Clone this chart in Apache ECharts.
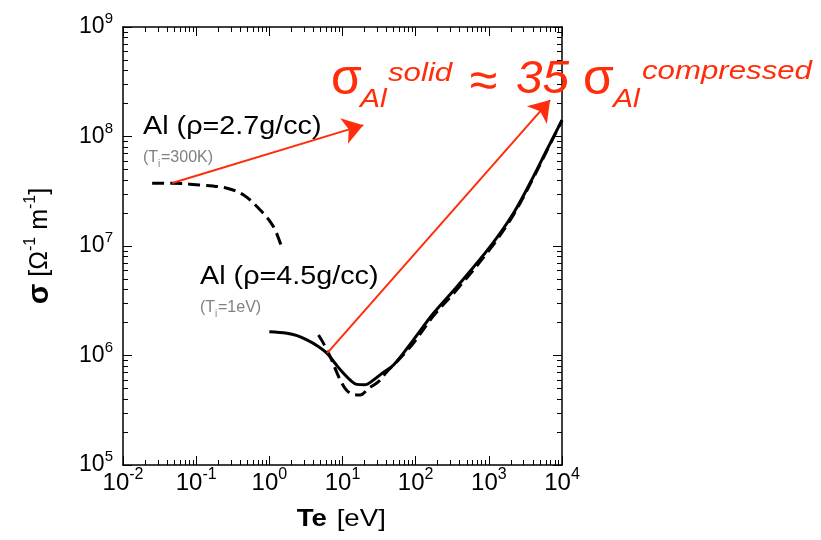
<!DOCTYPE html>
<html>
<head>
<meta charset="utf-8">
<script src="https://cdn.jsdelivr.net/npm/echarts@6/dist/echarts.min.js"></script>
<style>
html,body{margin:0;padding:0;background:#fff;}
#chart{width:821px;height:540px;}
</style>
</head>
<body>
<div id="chart"></div>
<script>
// ---- data ----
const xTicks = [0.01, 0.1, 1, 10, 100, 1000, 10000];
const yTicks = [1e5, 1e6, 1e7, 1e8, 1e9];

// Al 4.5 g/cc (Ti = 1 eV), solid line
const solidTe = [1.0, 1.74, 2.4, 3.26, 4.5, 6.12, 8.0, 10.3, 13.0, 15.7, 20, 26.5, 35, 49.8, 93.3, 175, 366, 1042, 2168, 4064, 6197, 10000];
const solidSigma = [1.65e6, 1.60e6, 1.52e6, 1.39e6, 1.23e6, 1.05e6, 8.4e5, 6.88e5, 5.9e5, 5.45e5, 5.4e5, 5.97e5, 6.9e5, 8.19e5, 1.39e6, 2.43e6, 4.25e6, 9.86e6, 1.99e7, 4.30e7, 7.53e7, 1.41e8];

// Al 2.7 g/cc (Ti = 300 K), dashed line, low-Te branch
const dashLowTe = [0.025, 0.0467, 0.114, 0.264, 0.445, 0.751, 1.14, 1.49];
const dashLowSigma = [3.74e7, 3.74e7, 3.61e7, 3.37e7, 2.92e7, 2.13e7, 1.50e7, 9.53e6];

// dashed line, high-Te branch
const dashHighTe = [4.70, 5.50, 6.79, 9.82, 12.7, 17.5, 22.7, 31.0, 40.4, 55.3, 93.3, 175, 366, 1042, 2168, 4064, 6197, 10000];
const dashHighSigma = [1.54e6, 1.29e6, 9.75e5, 5.57e5, 4.52e5, 4.36e5, 5.01e5, 5.77e5, 7.11e5, 8.78e5, 1.30e6, 2.30e6, 4.0e6, 9.4e6, 1.92e7, 4.2e7, 7.4e7, 1.40e8];

// red arrows: [startTe, startSigma, endTe, endSigma]
const arrowSolid = [0.0472, 3.76e7, 19.2, 1.27e8];
const arrowCompressed = [6.18, 1.05e6, 6870, 2.15e8];

// ---- helpers ----
function minorTicks(majors) {
  const out = [];
  for (let i = 0; i < majors.length - 1; i++) {
    for (let k = 2; k <= 9; k++) out.push(majors[i] * k);
  }
  return out;
}
const xMinor = minorTicks(xTicks);
const yMinor = minorTicks(yTicks);
const pair = (xs, ys) => xs.map((x, i) => [x, ys[i]]);

const FONT = '"Liberation Sans", Arial, Helvetica, sans-serif';
const RED = '#ff2d0a';

const labelFmt = v => '{b|10}{s|' + Math.round(Math.log10(v)) + '}';
function labelRich(size, sup, raise) {
  return {
    b: {fontSize: size, fontFamily: FONT, color: '#000', lineHeight: size},
    s: {fontSize: sup, fontFamily: FONT, color: '#000', lineHeight: sup, padding: [0, 0, raise, 0]}
  };
}

function xAx(pos, major, showLabel) {
  return {
    type: 'log', logBase: 10, min: 0.01, max: 10000, position: pos, gridIndex: 0,
    axisLine: {show: major, onZero: false, lineStyle: {color: '#000', width: 1.5}},
    axisTick: {show: true, inside: true, length: major ? 9 : 5, customValues: major ? xTicks : xMinor, lineStyle: {color: '#000', width: 1}},
    axisLabel: {show: showLabel, customValues: xTicks, formatter: labelFmt, rich: labelRich(24, 16, 16), margin: 6},
    splitLine: {show: false}, minorTick: {show: false}
  };
}
function yAx(pos, major, showLabel) {
  return {
    type: 'log', logBase: 10, min: 1e5, max: 1e9, position: pos, gridIndex: 0,
    axisLine: {show: major, onZero: false, lineStyle: {color: '#000', width: 1.5}},
    axisTick: {show: true, inside: true, length: major ? 9 : 5, customValues: major ? yTicks : yMinor, lineStyle: {color: '#000', width: 1}},
    axisLabel: {show: showLabel, customValues: yTicks, formatter: labelFmt, rich: labelRich(23, 15, 16), margin: 10},
    splitLine: {show: false}, minorTick: {show: false}
  };
}

function txt(x, y, text, size, opts) {
  opts = opts || {};
  return {
    type: 'text', x: x, y: y, scaleX: opts.scaleX || 1, rotation: opts.rotation || 0,
    silent: true, z: 100,
    style: {
      text: text, fill: opts.color || '#000',
      font: (opts.italic ? 'italic ' : '') + (opts.bold ? 'bold ' : '') + size + 'px ' + FONT,
      align: opts.align || 'left', verticalAlign: 'middle',
      rich: opts.rich
    }
  };
}

const lineBase = {type: 'line', xAxisIndex: 0, yAxisIndex: 0, showSymbol: false, symbol: 'none', smooth: 0.35, silent: true, animation: false};

const option = {
  animation: false,
  grid: {left: 123, right: 259, top: 27, bottom: 75},
  xAxis: [xAx('bottom', true, true), xAx('bottom', false, false), xAx('top', true, false), xAx('top', false, false)],
  yAxis: [yAx('left', true, true), yAx('left', false, false), yAx('right', true, false), yAx('right', false, false)],
  series: [
    Object.assign({}, lineBase, {name: 'Al 2.7 low', data: pair(dashLowTe, dashLowSigma), lineStyle: {color: '#000', width: 3, type: [12, 6], cap: 'butt'}}),
    Object.assign({}, lineBase, {name: 'Al 2.7 high', data: pair(dashHighTe, dashHighSigma), lineStyle: {color: '#000', width: 3, type: [12, 6], cap: 'butt'}}),
    Object.assign({}, lineBase, {name: 'Al 4.5', data: pair(solidTe, solidSigma), lineStyle: {color: '#000', width: 3}}),
    {
      type: 'lines', coordinateSystem: 'cartesian2d', xAxisIndex: 0, yAxisIndex: 0, silent: true, z: 10,
      symbol: ['none', 'arrow'], symbolSize: [0, 20],
      lineStyle: {color: RED, width: 2, opacity: 1},
      itemStyle: {color: RED},
      data: [
        {coords: [[arrowSolid[0], arrowSolid[1]], [arrowSolid[2], arrowSolid[3]]]},
        {coords: [[arrowCompressed[0], arrowCompressed[1]], [arrowCompressed[2], arrowCompressed[3]]]}
      ]
    }
  ],
  graphic: [
    // axis names
    txt(296.7, 519.5, 'Te', 24, {bold: true, scaleX: 1.15}),
    txt(336.7, 519.5, '[eV]', 24, {scaleX: 1.15}),
    {
      type: 'text', x: 40, y: 246, rotation: Math.PI / 2, silent: true,
      style: {
        text: '{b|σ} [Ω{s|-1} m{s|-1}]', font: '25px ' + FONT, fill: '#000', align: 'center', verticalAlign: 'middle',
        rich: {
          b: {fontSize: 30, fontWeight: 'bold', fontFamily: FONT, lineHeight: 30},
          s: {fontSize: 16, fontFamily: FONT, lineHeight: 16, padding: [0, 0, 18, 0]}
        }
      }
    },
    // annotations
    txt(143, 126.7, 'Al (ρ=2.7g/cc)', 25, {scaleX: 1.15}),
    txt(143, 157.5, '(T', 16, {color: '#808080'}),
    txt(158, 164, 'i', 10, {color: '#808080'}),
    txt(161, 157.5, '=300K)', 16, {color: '#808080'}),
    txt(200, 276.7, 'Al (ρ=4.5g/cc)', 25, {scaleX: 1.15}),
    txt(200, 307.5, '(T', 16, {color: '#808080'}),
    txt(215, 314, 'i', 10, {color: '#808080'}),
    txt(218, 307.5, '=1eV)', 16, {color: '#808080'}),
    // red formula
    txt(331, 80, 'σ', 50, {color: RED}),
    txt(360, 99.7, 'Al', 25, {color: RED, italic: true, scaleX: 1.2}),
    txt(388, 73.4, 'solid', 26, {color: RED, italic: true, scaleX: 1.2}),
    txt(483.5, 83, '≈', 50, {color: RED, align: 'center'}),
    txt(516, 79.8, '35', 46, {color: RED, italic: true, scaleX: 1.04}),
    txt(583, 80, 'σ', 50, {color: RED}),
    txt(613, 99.7, 'Al', 25, {color: RED, italic: true, scaleX: 1.2}),
    txt(642, 71.4, 'compressed', 26, {color: RED, italic: true, scaleX: 1.2})
  ]
};

const chart = echarts.init(document.getElementById('chart'), null, {renderer: 'canvas'});
chart.setOption(option);
</script>
</body>
</html>
